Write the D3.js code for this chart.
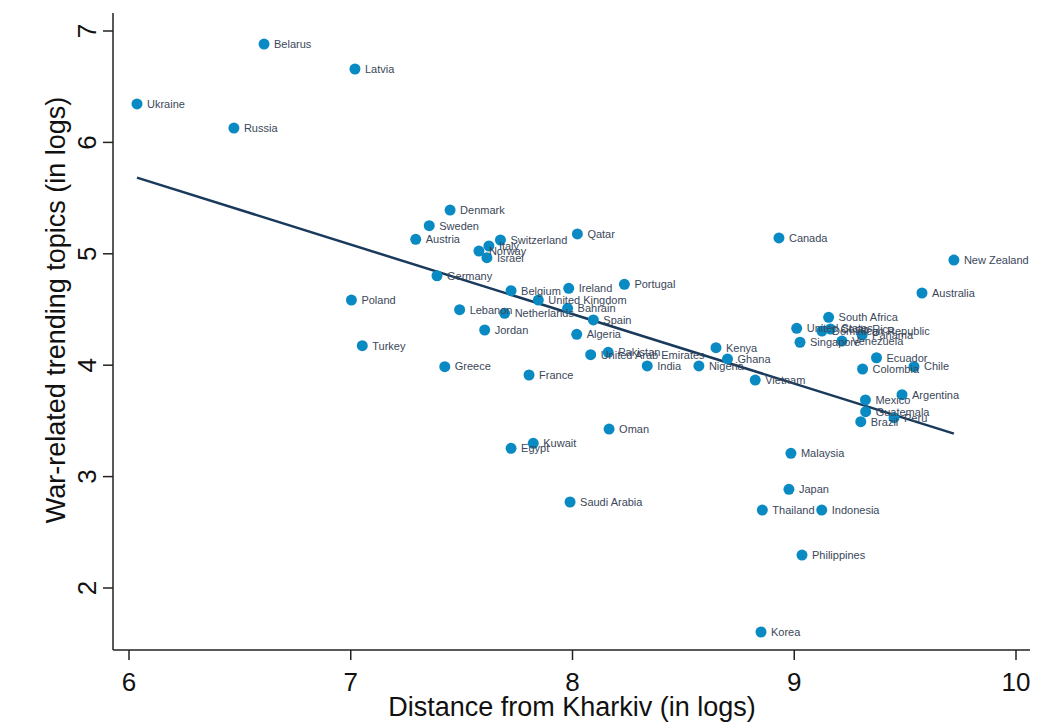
<!DOCTYPE html>
<html>
<head>
<meta charset="utf-8">
<script src="https://cdn.jsdelivr.net/npm/d3@7"></script>
<style>
  body { margin: 0; background: #fff; }
  svg { display: block; }
</style>
</head>
<body>
<svg id="chart" width="1047" height="722"></svg>
<script>
// Country names
const countries = ["Ukraine","Belarus","Latvia","Russia","Denmark","Sweden","Austria","Switzerland","Italy","Norway","Israel","Qatar","Germany","Belgium","Ireland","Portugal","Poland","United Kingdom","Lebanon","Netherlands","Bahrain","Spain","Jordan","Algeria","Turkey","Greece","France","United Arab Emirates","Pakistan","India","Nigeria","Kenya","Ghana","Vietnam","South Africa","United States","Singapore","Dominican Republic","Costa Rica","Panama","Venezuela","Ecuador","Chile","Colombia","Argentina","Mexico","Guatemala","Peru","Brazil","Australia","New Zealand","Canada","Malaysia","Japan","Thailand","Indonesia","Philippines","Korea","Oman","Kuwait","Egypt","Saudi Arabia"];
// Distance from Kharkiv (in logs)
const distance = [6.036,6.609,7.019,6.473,7.448,7.354,7.293,7.675,7.623,7.578,7.614,8.022,7.389,7.723,7.983,8.234,7.003,7.846,7.491,7.694,7.978,8.094,7.604,8.019,7.052,7.424,7.804,8.082,8.161,8.337,8.570,8.647,8.699,8.824,9.155,9.011,9.026,9.125,9.163,9.306,9.215,9.371,9.540,9.308,9.486,9.321,9.322,9.450,9.300,9.576,9.720,8.931,8.985,8.976,8.856,9.124,9.035,8.850,8.165,7.823,7.723,7.989];
// War-related trending topics (in logs)
const topics = [6.345,6.883,6.659,6.129,5.393,5.252,5.130,5.124,5.070,5.025,4.965,5.178,4.803,4.669,4.690,4.726,4.585,4.585,4.498,4.466,4.511,4.406,4.316,4.277,4.175,3.987,3.912,4.094,4.116,3.993,3.993,4.157,4.056,3.867,4.430,4.331,4.206,4.307,4.325,4.271,4.217,4.067,3.987,3.966,3.735,3.688,3.583,3.529,3.493,4.648,4.944,5.142,3.209,2.886,2.700,2.700,2.296,1.605,3.427,3.299,3.254,2.772];
const xTicks = [6,7,8,9,10];
const yTicks = [2,3,4,5,6,7];

const data = countries.map((c,i) => ({name:c, x:distance[i], y:topics[i]}));

const svg = d3.select("#chart");
const x = d3.scaleLinear().domain([6,10]).range([129,1016]);
const y = d3.scaleLinear().domain([2,7]).range([588,31]);
const xLeft = 113, xRight = 1030, yTop = 13, yBottom = 650;
const font = "Liberation Sans, Arial, sans-serif";

// axes lines
const axisColor = "#222";
svg.append("line").attr("x1",xLeft).attr("x2",xLeft).attr("y1",yTop).attr("y2",yBottom)
  .attr("stroke",axisColor).attr("stroke-width",1.5);
svg.append("line").attr("x1",xLeft).attr("x2",xRight).attr("y1",yBottom).attr("y2",yBottom)
  .attr("stroke",axisColor).attr("stroke-width",1.5);

// y ticks
const yg = svg.append("g");
yg.selectAll("line").data(yTicks).join("line")
  .attr("x1",xLeft-10).attr("x2",xLeft).attr("y1",d=>y(d)).attr("y2",d=>y(d))
  .attr("stroke",axisColor).attr("stroke-width",1.5);
yg.selectAll("text").data(yTicks).join("text")
  .attr("transform",d=>`translate(96,${y(d)}) rotate(-90)`)
  .attr("text-anchor","middle")
  .style("font-family",font)
  .style("font-size","26px").attr("fill","#111")
  .text(d=>d);

// x ticks
const xg = svg.append("g");
xg.selectAll("line").data(xTicks).join("line")
  .attr("x1",d=>x(d)).attr("x2",d=>x(d)).attr("y1",yBottom).attr("y2",yBottom+10)
  .attr("stroke",axisColor).attr("stroke-width",1.5);
xg.selectAll("text").data(xTicks).join("text")
  .attr("x",d=>x(d)).attr("y",691)
  .attr("text-anchor","middle")
  .style("font-family",font)
  .style("font-size","26px").attr("fill","#111")
  .text(d=>d);

// titles
svg.append("text").attr("x",572).attr("y",716).attr("text-anchor","middle")
  .style("font-family",font).style("font-size","27px").attr("fill","#111")
  .text("Distance from Kharkiv (in logs)");
svg.append("text").attr("transform","translate(65,310) rotate(-90)").attr("text-anchor","middle")
  .style("font-family",font).style("font-size","27px").attr("fill","#111")
  .text("War-related trending topics (in logs)");

// OLS fit
const mx = d3.mean(distance), my = d3.mean(topics);
let sxy = 0, sxx = 0;
distance.forEach((d,i)=>{ sxy += (d-mx)*(topics[i]-my); sxx += (d-mx)*(d-mx); });
const b = sxy/sxx, a = my - b*mx;
const [x0,x1] = d3.extent(distance);
svg.append("line")
  .attr("x1",x(x0)).attr("y1",y(a+b*x0)).attr("x2",x(x1)).attr("y2",y(a+b*x1))
  .attr("stroke","#1a3a5c").attr("stroke-width",2.5);

// points
svg.append("g").selectAll("circle").data(data).join("circle")
  .attr("cx",d=>x(d.x)).attr("cy",d=>y(d.y)).attr("r",5.5)
  .attr("fill","#0a8ac2");

// labels
svg.append("g").selectAll("text").data(data).join("text")
  .attr("x",d=>x(d.x)+10).attr("y",d=>y(d.y)).attr("dy","0.35em")
  .style("font-family",font).style("font-size","11px")
  .attr("fill","#3a475a")
  .text(d=>d.name);
</script>
</body>
</html>
